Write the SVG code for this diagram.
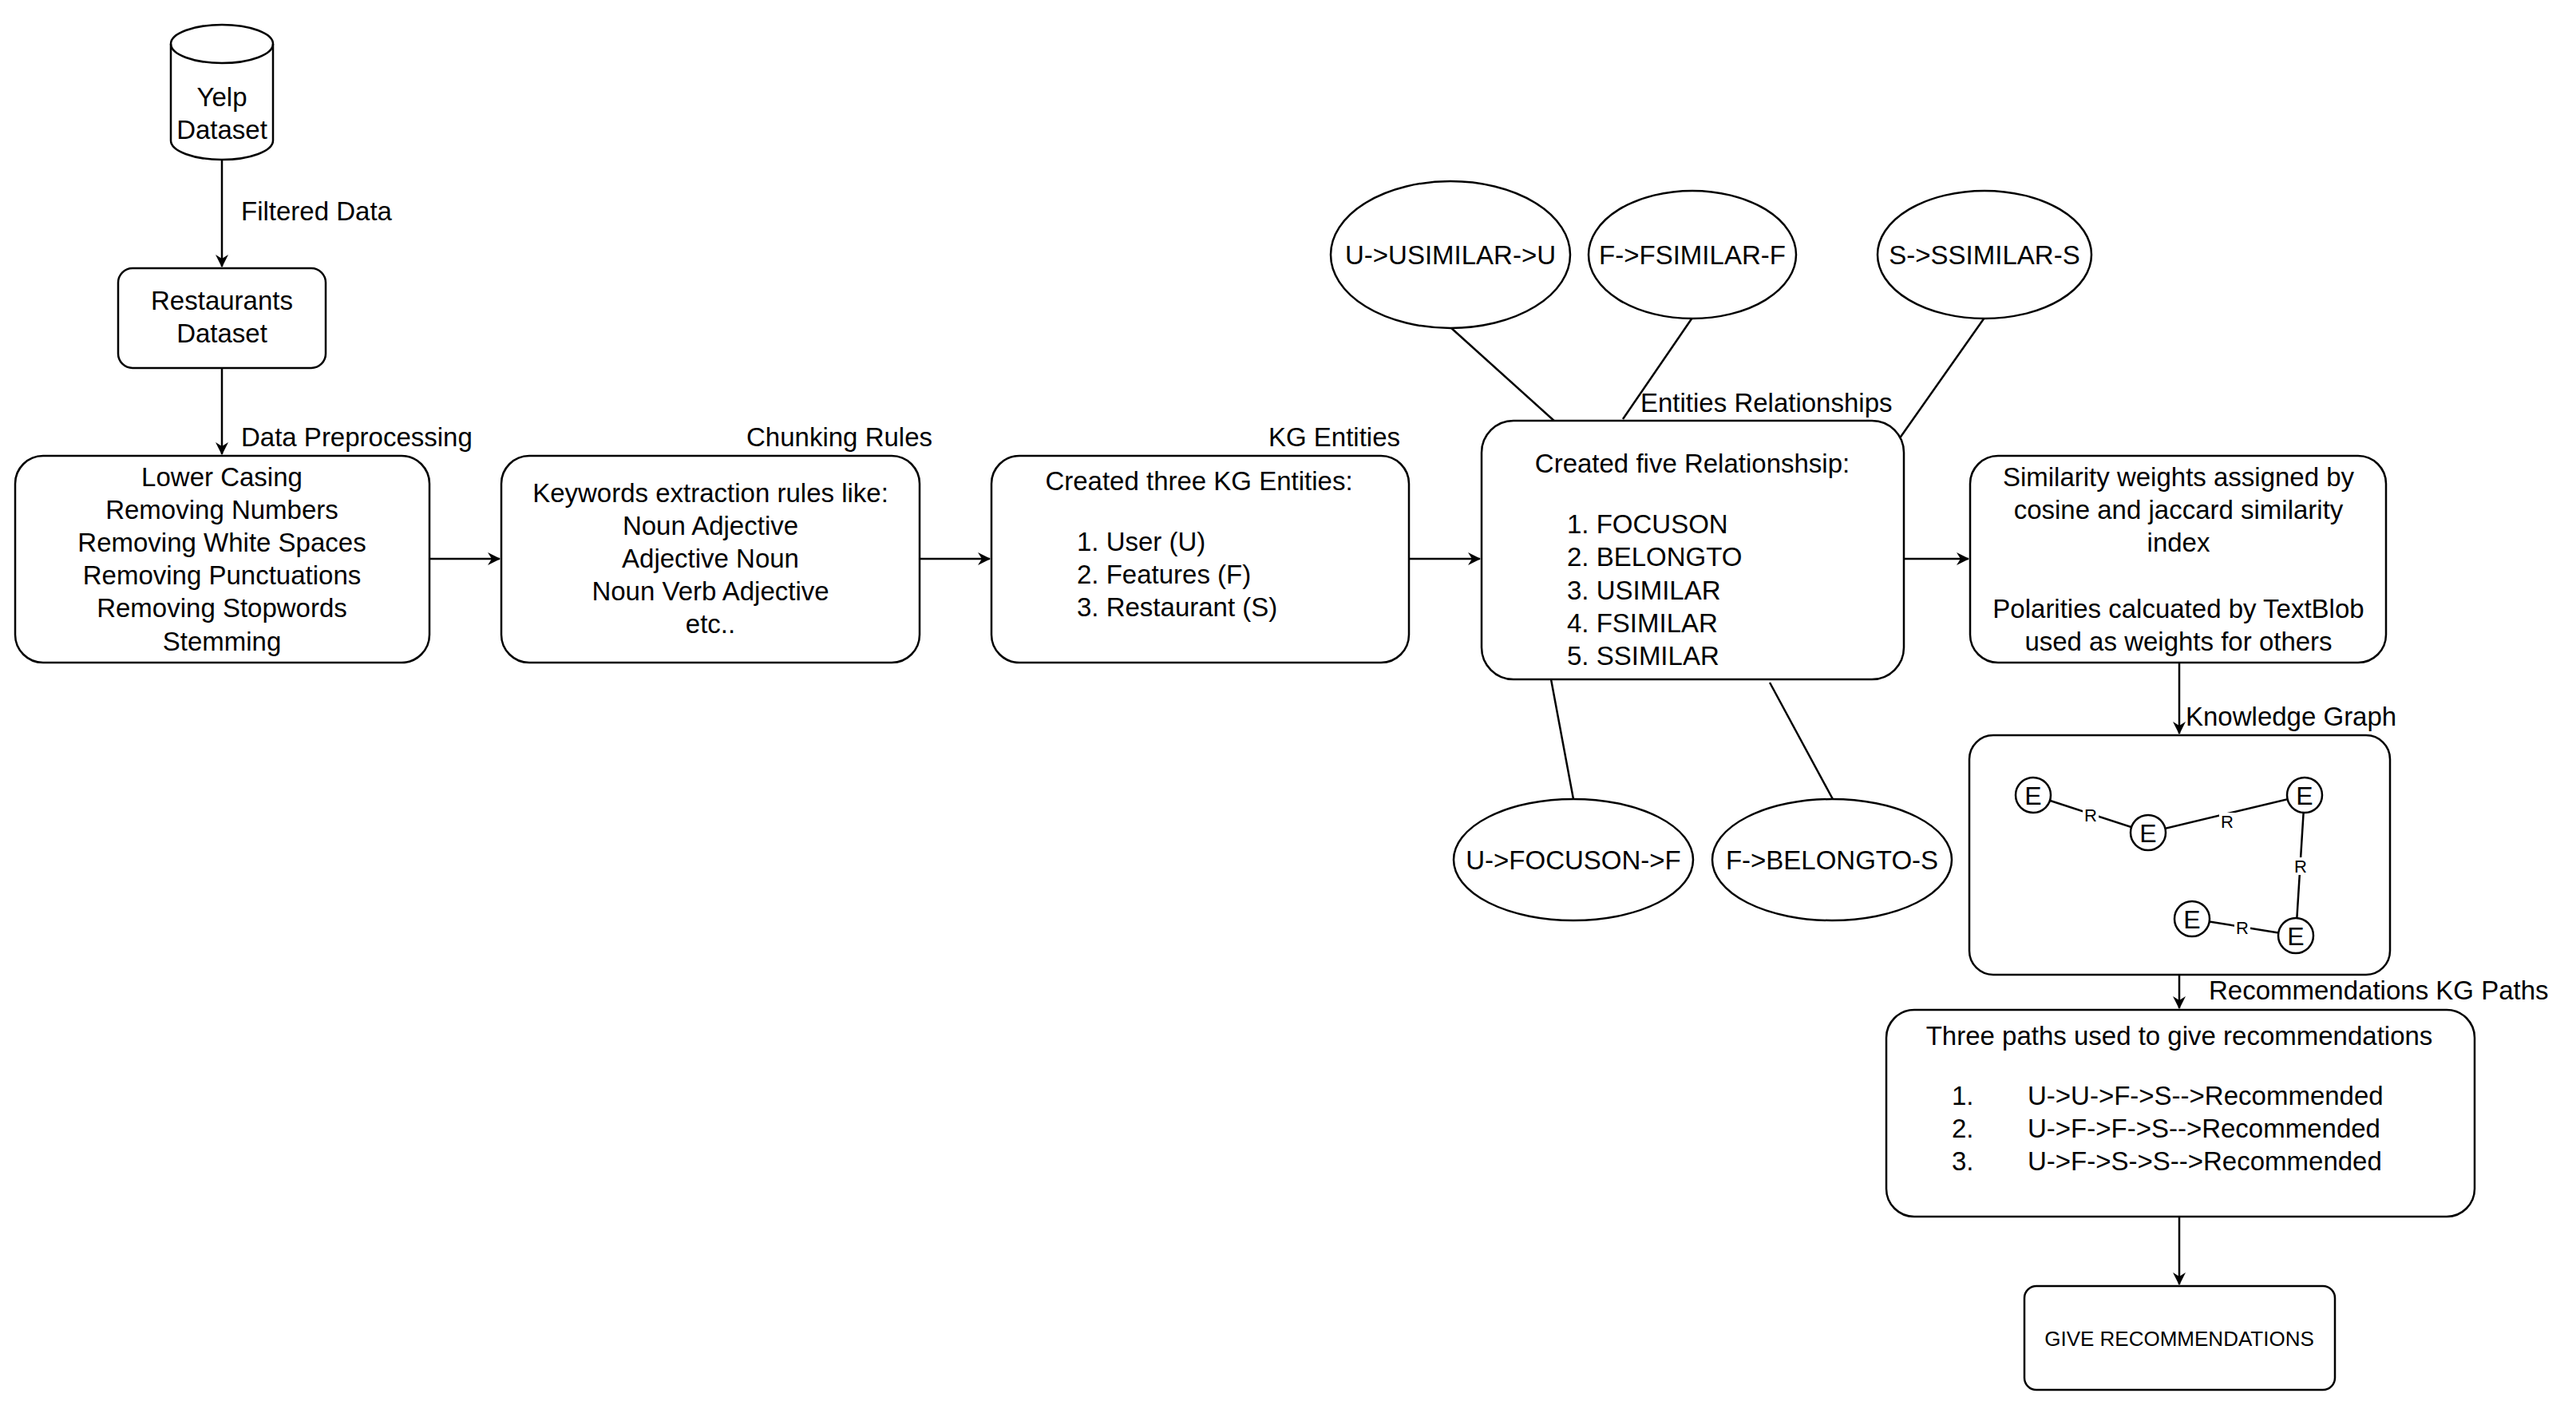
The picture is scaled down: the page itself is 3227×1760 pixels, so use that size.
<svg xmlns="http://www.w3.org/2000/svg" width="3227" height="1760" viewBox="0 0 3227 1760">
<style>
text{font-family:"Liberation Sans",Arial,sans-serif;font-size:33px;fill:#000}
.c{text-anchor:middle}
.r{text-anchor:end}
.b{fill:#fff;stroke:#000;stroke-width:2.5}
.l{stroke:#000;stroke-width:2.5;fill:none}
.a{stroke:#000;stroke-width:2.5;fill:none;marker-end:url(#ah)}
.s{font-size:22px}
.e{font-size:32px}
</style>
<defs><marker id="ah" markerWidth="10" markerHeight="10" refX="9" refY="5" orient="auto" markerUnits="userSpaceOnUse" viewBox="0 0 10 10"><path d="M0,0 L10,5 L0,10 L3,5 z" fill="#000"/></marker>
<marker id="ah2" markerWidth="16" markerHeight="16" refX="15" refY="8" orient="auto" markerUnits="userSpaceOnUse" viewBox="0 0 16 16"><path d="M0,0 L16,8 L0,16 L5,8 z" fill="#000"/></marker></defs>
<rect width="3227" height="1760" fill="#fff"/>
<g id="connectors">
<path class="l" d="M278,200 V334" marker-end="url(#ah2)"/>
<path class="l" d="M278,461 V569" marker-end="url(#ah2)"/>
<path class="l" d="M538,700 H626" marker-end="url(#ah2)"/>
<path class="l" d="M1152,700 H1240" marker-end="url(#ah2)"/>
<path class="l" d="M1765,700 H1854" marker-end="url(#ah2)"/>
<path class="l" d="M2385,700 H2466" marker-end="url(#ah2)"/>
<path class="l" d="M2730,830 V919" marker-end="url(#ah2)"/>
<path class="l" d="M2730,1221 V1263" marker-end="url(#ah2)"/>
<path class="l" d="M2730,1524 V1609" marker-end="url(#ah2)"/>
<path class="l" d="M1817,410 L1949,529 M2120,398 L2033,525 M2486,398 L2379,550 M1943,851 L1971,1001 M2217,855 L2297,1003"/>
<text x="302" y="276">Filtered Data</text>
<text x="302" y="559">Data Preprocessing</text>
<text class="r" x="1168" y="559">Chunking Rules</text>
<text class="r" x="1754" y="559">KG Entities</text>
<text x="2055" y="516">Entities Relationships</text>
<text x="2738" y="909">Knowledge Graph</text>
<text x="2767" y="1252">Recommendations KG Paths</text>
</g>
<g id="yelp">
<path class="b" d="M214,55 A64,24 0 0 1 342,55 V176 A64,24 0 0 1 214,176 Z"/>
<path class="l" d="M214,55 A64,24 0 0 0 342,55"/>
<text class="c" x="278" y="133">Yelp</text><text class="c" x="278" y="174">Dataset</text>
</g>
<g id="restaurants"><rect class="b" x="148" y="336" width="260" height="125" rx="18"/>
<text class="c" x="278" y="388">Restaurants</text><text class="c" x="278" y="429">Dataset</text></g>
<g id="preproc"><rect class="b" x="19" y="571" width="519" height="259" rx="35"/>
<text class="c" x="278" y="609">Lower Casing</text><text class="c" x="278" y="650">Removing Numbers</text><text class="c" x="278" y="691">Removing White Spaces</text><text class="c" x="278" y="732">Removing Punctuations</text><text class="c" x="278" y="773">Removing Stopwords</text><text class="c" x="278" y="815">Stemming</text></g>
<g id="chunk"><rect class="b" x="628" y="571" width="524" height="259" rx="35"/>
<text class="c" x="890" y="629">Keywords extraction rules like:</text><text class="c" x="890" y="670">Noun Adjective</text><text class="c" x="890" y="711">Adjective Noun</text><text class="c" x="890" y="752">Noun Verb Adjective</text><text class="c" x="890" y="793">etc..</text></g>
<g id="entities"><rect class="b" x="1242" y="571" width="523" height="259" rx="35"/>
<text class="c" x="1502" y="614">Created three KG Entities:</text>
<text x="1349" y="690">1. User (U)</text><text x="1349" y="731">2. Features (F)</text><text x="1349" y="772">3. Restaurant (S)</text></g>
<g id="relations"><rect class="b" x="1856" y="527" width="529" height="324" rx="40"/>
<text class="c" x="2120" y="592">Created five Relationshsip:</text>
<text x="1963" y="668">1. FOCUSON</text><text x="1963" y="709">2. BELONGTO</text><text x="1963" y="751">3. USIMILAR</text><text x="1963" y="792">4. FSIMILAR</text><text x="1963" y="833">5. SSIMILAR</text></g>
<g id="weights"><rect class="b" x="2468" y="571" width="521" height="259" rx="35"/>
<text class="c" x="2729" y="609">Similarity weights assigned by</text><text class="c" x="2729" y="650">cosine and jaccard similarity</text><text class="c" x="2729" y="691">index</text><text class="c" x="2729" y="774">Polarities calcuated by TextBlob</text><text class="c" x="2729" y="815">used as weights for others</text></g>
<g id="e-usim"><ellipse class="b" cx="1817" cy="319" rx="150" ry="92"/><text class="c" x="1817" y="331">U-&gt;USIMILAR-&gt;U</text></g>
<g id="e-fsim"><ellipse class="b" cx="2120" cy="319" rx="130" ry="80"/><text class="c" x="2120" y="331">F-&gt;FSIMILAR-F</text></g>
<g id="e-ssim"><ellipse class="b" cx="2486" cy="319" rx="134" ry="80"/><text class="c" x="2486" y="331">S-&gt;SSIMILAR-S</text></g>
<g id="e-focus"><ellipse class="b" cx="1971" cy="1077" rx="150" ry="76"/><text class="c" x="1971" y="1089">U-&gt;FOCUSON-&gt;F</text></g>
<g id="e-belong"><ellipse class="b" cx="2295" cy="1077" rx="150" ry="76"/><text class="c" x="2295" y="1089">F-&gt;BELONGTO-S</text></g>
<g id="kg"><rect class="b" x="2467" y="921" width="527" height="300" rx="30"/>
<path class="l" stroke-width="2" d="M2547,996 L2691,1043 L2887,996 L2876,1172 L2746,1151"/>
<g fill="#fff"><rect x="2609" y="1010" width="20" height="22"/><rect x="2780" y="1018" width="20" height="22"/><rect x="2872" y="1074" width="20" height="22"/><rect x="2799" y="1151" width="20" height="22"/></g>
<text class="c s" x="2619" y="1029">R</text><text class="c s" x="2790" y="1037">R</text><text class="c s" x="2882" y="1093">R</text><text class="c s" x="2809" y="1170">R</text>
<g class="b" stroke-width="2"><circle cx="2547" cy="996" r="22"/><circle cx="2691" cy="1043" r="22"/><circle cx="2887" cy="996" r="22"/><circle cx="2746" cy="1151" r="22"/><circle cx="2876" cy="1172" r="22"/></g>
<text class="c e" x="2547" y="1008">E</text><text class="c e" x="2691" y="1055">E</text><text class="c e" x="2887" y="1008">E</text><text class="c e" x="2746" y="1163">E</text><text class="c e" x="2876" y="1184">E</text></g>
<g id="paths"><rect class="b" x="2363" y="1265" width="737" height="259" rx="35"/>
<text class="c" x="2730" y="1309">Three paths used to give recommendations</text>
<text x="2445" y="1384">1.</text><text x="2445" y="1425">2.</text><text x="2445" y="1466">3.</text>
<text x="2540" y="1384">U-&gt;U-&gt;F-&gt;S--&gt;Recommended</text><text x="2540" y="1425">U-&gt;F-&gt;F-&gt;S--&gt;Recommended</text><text x="2540" y="1466">U-&gt;F-&gt;S-&gt;S--&gt;Recommended</text></g>
<g id="give"><rect class="b" x="2536" y="1611" width="389" height="130" rx="15"/>
<text class="c" x="2730" y="1686" style="font-size:26px">GIVE RECOMMENDATIONS</text></g>
</svg>
